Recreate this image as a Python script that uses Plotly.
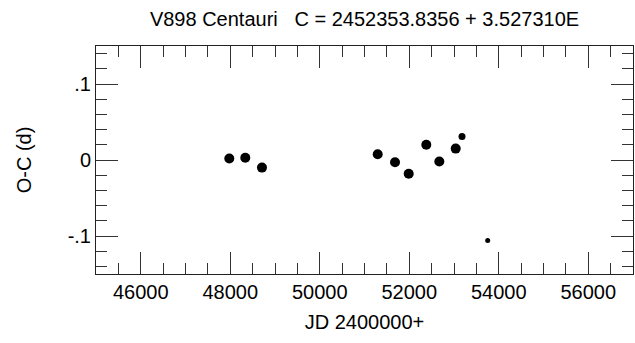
import plotly.graph_objects as go

# Data
jd_big = [47979, 48336, 48709, 51295, 51682, 51988, 52381, 52672, 53038]
oc_big = [0.002, 0.003, -0.010, 0.0075, -0.003, -0.018, 0.020, -0.002, 0.015]
jd_mid = [53179]
oc_mid = [0.031]
jd_small = [53753]
oc_small = [-0.106]

y_tickvals = [-0.1, 0, 0.1]
y_ticktext = ["-.1", "0", ".1"]

FONT = "Liberation Sans, Arial, sans-serif"

fig = go.Figure()
fig.add_trace(go.Scatter(x=jd_big, y=oc_big, mode="markers",
                         marker=dict(size=10, color="black"), showlegend=False))
fig.add_trace(go.Scatter(x=jd_mid, y=oc_mid, mode="markers",
                         marker=dict(size=7, color="black"), showlegend=False))
fig.add_trace(go.Scatter(x=jd_small, y=oc_small, mode="markers",
                         marker=dict(size=5, color="black"), showlegend=False))

axis_common = dict(
    showline=True, linecolor="#222", linewidth=1, mirror="allticks",
    ticks="inside", tickcolor="#333", tickwidth=1, ticklen=22,
    showgrid=False, zeroline=False,
    tickfont=dict(family=FONT, size=20, color="black"),
)

fig.update_xaxes(
    range=[45000, 57000], dtick=2000, tick0=46000, tickformat="d",
    minor=dict(dtick=500, ticks="inside", ticklen=11, tickcolor="#333", showgrid=False),
    title=dict(text="JD 2400000+", font=dict(family=FONT, size=20, color="black"), standoff=12),
    **axis_common,
)
fig.update_yaxes(
    range=[-0.15, 0.15], tickvals=y_tickvals, ticktext=y_ticktext,
    minor=dict(dtick=0.02, tick0=0, ticks="inside", ticklen=11, tickcolor="#333", showgrid=False),
    title=dict(text="O-C (d)", font=dict(family=FONT, size=20, color="black"), standoff=30),
    **axis_common,
)

fig.update_layout(
    width=635, height=343,
    margin=dict(l=96, r=2, t=46, b=69),
    paper_bgcolor="white", plot_bgcolor="white",
    title=dict(text="V898 Centauri   C = 2452353.8356 + 3.527310E",
               font=dict(family=FONT, size=20, color="black"),
               x=0.5, xref="paper", xanchor="center", y=0.945, yanchor="middle"),
)

fig.write_html("out.html")
